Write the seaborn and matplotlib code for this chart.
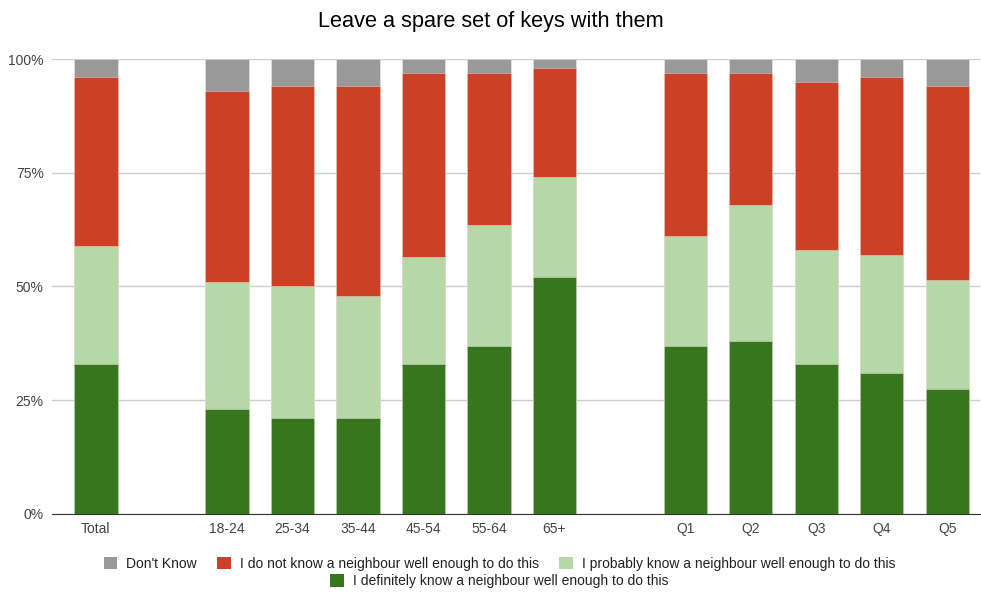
import numpy as np
import pandas as pd
import matplotlib
matplotlib.use("Agg")
import matplotlib.pyplot as plt
from matplotlib.patches import Patch
import seaborn as sns

groups = ["Total", "18-24", "25-34", "35-44", "45-54", "55-64", "65+",
          "Q1", "Q2", "Q3", "Q4", "Q5"]
definitely = [33, 23, 21, 21, 33, 37, 52, 37, 38, 33, 31, 27.5]
probably = [26, 28, 29, 27, 23.5, 26.5, 22, 24, 30, 25, 26, 24]
do_not = [37, 42, 44, 46, 40.5, 33.5, 24, 36, 29, 37, 39, 42.5]
dont_know = [4, 7, 6, 6, 3, 3, 2, 3, 3, 5, 4, 6]

labels = ["Don't Know",
          "I do not know a neighbour well enough to do this",
          "I probably know a neighbour well enough to do this",
          "I definitely know a neighbour well enough to do this"]
colors = ["#999999", "#cc4125", "#b6d7a8", "#38761d"]

# slot order with empty gaps between the group blocks
order = ["Total", " ", "18-24", "25-34", "35-44", "45-54", "55-64", "65+",
         "  ", "Q1", "Q2", "Q3", "Q4", "Q5"]

df = pd.DataFrame({"group": groups, "def": definitely, "prob": probably,
                   "no": do_not, "dk": dont_know})
df["t_def"] = df["def"]
df["t_prob"] = df["t_def"] + df["prob"]
df["t_no"] = df["t_prob"] + df["no"]
df["t_dk"] = df["t_no"] + df["dk"]

plt.rcParams["font.family"] = ["Liberation Sans", "DejaVu Sans"]
fig = plt.figure(figsize=(9.81, 5.92), dpi=100)
ax = fig.add_axes([0.053, 0.1318, 0.946, 0.7685])

for col, c in zip(["t_dk", "t_no", "t_prob", "t_def"], colors):
    sns.barplot(data=df, x="group", y=col, order=order, color=c, width=0.66,
                edgecolor=(1, 1, 1, 0.4), linewidth=0.6, saturation=1, ax=ax,
                errorbar=None, zorder=3)

ax.set_xlim(-0.672, 13.5)
ax.set_ylim(0, 100)
ax.set_yticks([0, 25, 50, 75, 100])
ax.set_yticklabels(["0%", "25%", "50%", "75%", "100%"])
ax.grid(axis="y", color="#cccccc", linewidth=1, zorder=0)
ax.set_axisbelow(True)
for s in ["top", "right", "left"]:
    ax.spines[s].set_visible(False)
ax.spines["bottom"].set_color("#333333")
ax.spines["bottom"].set_zorder(5)
ax.tick_params(axis="both", length=0, labelsize=10, colors="#444444", pad=6)
ax.set_xlabel("")
ax.set_ylabel("")

fig.suptitle("Leave a spare set of keys with them", fontsize=15.7, y=0.982,
             color="#000000")

handles = [Patch(facecolor=c, edgecolor="none") for c in colors]
leg_kw = dict(frameon=False, fontsize=10, handlelength=1.0, handleheight=1.0,
              handletextpad=0.6, columnspacing=1.5, labelcolor="#222222")
fig.legend(handles[:3], labels[:3], loc="center", ncol=3,
           bbox_to_anchor=(0.509, 0.048), **leg_kw)
fig.legend(handles[3:], labels[3:], loc="center", ncol=1,
           bbox_to_anchor=(0.509, 0.018), **leg_kw)

fig.savefig("out.png", dpi=100)
